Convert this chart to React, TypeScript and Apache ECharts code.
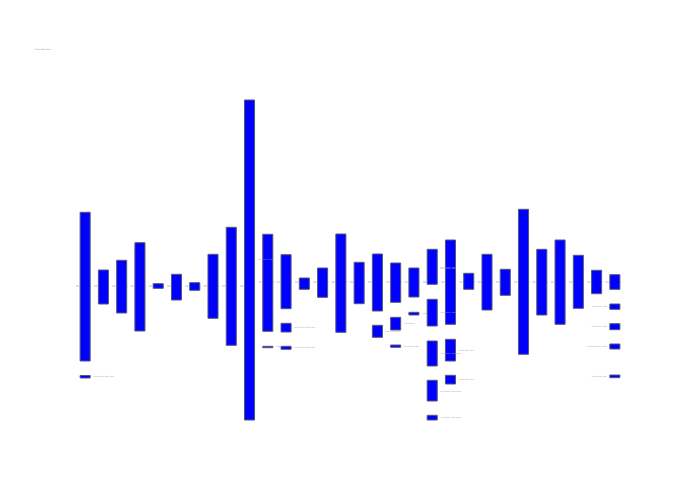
import React, { useEffect, useRef } from "react";
import * as echarts from "echarts";

// 30 columns
const categories: string[] = Array.from({ length: 30 }, (_, i) => `C${i + 1}`);

// main bars: upper and lower value per column
const mainHigh: number[] = [73.7, 16, 25.7, 43.3, 2.3, 11.7, 3.3, 31.7, 58.7, 186, 51.7, 31.3, 8, 18, 52, 23.7, 32, 23, 18, 36.7, 46, 12.7, 31.7, 16.7, 76.7, 36.7, 46, 30.7, 15.7, 11.3];
const mainLow: number[] = [-75, -18, -27, -45, -2.3, -14, -4.3, -32.3, -59.3, -134, -45.3, -22.7, -3.3, -11.3, -46.3, -17.7, -25, -16.3, -11, 1.7, -38.3, -3.3, -24, -9.3, -68.3, -29, -38.3, -22.3, -7.7, -3.3];

// extra (secondary) bars: column index, upper, lower
const extraCol: number[] = [0, 10, 11, 11, 16, 17, 17, 18, 19, 19, 19, 19, 20, 20, 29, 29, 29, 29];
const extraHigh: number[] = [-89.5, -60.3, -37.3, -60.3, -39.3, -31.3, -59, -26.3, -13.3, -55, -94.3, -129.3, -53.3, -89.3, -18, -37.7, -58, -89];
const extraLow: number[] = [-92, -61.7, -46, -63.3, -51.3, -44, -61.3, -29, -40, -80, -115, -134, -75, -98, -23.3, -43.7, -63, -91.7];

// baseline level per column
const baseline: number[] = [0, 0, 0, 0, 0, 0, 0, 0, 0, 0, 4, 4, 4, 4, 4, 4, 4, 4, 4, 4, 4, 4, 4, 4, 4, 4, 4, 4, 4, 4];

// tiny annotation texts: column, value, side (1 right / -1 left), text
const labelCol: number[] = [0, 9, 10, 11, 11, 16, 17, 17, 18, 19, 19, 19, 19, 19, 19, 20, 20, 29, 29, 29, 29];
const labelVal: number[] = [-90, 26.7, -60.5, -41, -61, -45.3, -37.3, -60.3, -27.3, 19.3, 17.7, -26.3, -67.3, -104.7, -131.3, -64, -93.3, -20.3, -40.3, -60.3, -90.3];
const labelSide: number[] = [1, 1, 1, 1, 1, 1, 1, 1, 1, 1, 1, 1, 1, 1, 1, 1, 1, -1, -1, -1, -1];
const labelText: string[] = [
  "annotation text here", "annotation text", "note", "annotation text here", "annotation text here",
  "annotation text", "annotation", "annotation text", "note",
  "annotation text", "annotation text", "annotation text", "annotation text here", "annotation text here", "annotation text here",
  "annotation text", "annotation text",
  "annotation text", "annotation text", "annotation text here", "annotation text",
];

const titleText = "Chart title here";

export default function App() {
  const ref = useRef<HTMLDivElement>(null);
  useEffect(() => {
    if (!ref.current) return;
    const chart = echarts.init(ref.current, null, { renderer: "svg" });

    const barData: number[][] = [];
    categories.forEach((_, i) => barData.push([i, mainHigh[i], mainLow[i]]));
    extraCol.forEach((c, k) => barData.push([c, extraHigh[k], extraLow[k]]));

    const baseData = categories.map((_, i) => [i, baseline[i]]);
    const labelData = labelCol.map((c, k) => [c, labelVal[k], labelSide[k], labelText[k]]);

    chart.setOption({
      animation: false,
      backgroundColor: "#ffffff",
      title: {
        text: titleText,
        left: 35,
        top: 48,
        padding: 0,
        textStyle: { fontSize: 2, color: "#888", fontWeight: "normal", fontFamily: "DejaVu Sans" },
      },
      grid: { left: 76, right: 76, top: 100, bottom: 80 },
      xAxis: {
        type: "category",
        data: categories,
        boundaryGap: true,
        show: false,
      },
      yAxis: {
        type: "value",
        min: -134,
        max: 186,
        show: false,
      },
      series: [
        {
          type: "custom",
          data: baseData,
          z: 1,
          renderItem: (params: any, api: any) => {
            const i = api.value(0);
            const v = api.value(1);
            const p1 = api.coord([i, v]);
            const w = api.size([1, 0])[0];
            return {
              type: "line",
              shape: { x1: p1[0] - w / 2, y1: p1[1], x2: p1[0] + w / 2, y2: p1[1] },
              style: { stroke: "#b4bccd", lineWidth: 1, lineDash: [3, 3] },
            };
          },
        },
        {
          type: "custom",
          data: barData,
          z: 2,
          renderItem: (params: any, api: any) => {
            const i = api.value(0);
            const hi = api.coord([i, api.value(1)]);
            const lo = api.coord([i, api.value(2)]);
            const w = api.size([1, 0])[0] * 0.55;
            return {
              type: "rect",
              shape: { x: hi[0] - w / 2, y: hi[1], width: w, height: Math.max(lo[1] - hi[1], 1) },
              style: { fill: "#0000ff", stroke: "#55577a", lineWidth: 1 },
            };
          },
        },
        {
          type: "custom",
          data: labelData,
          z: 3,
          renderItem: (params: any, api: any) => {
            const i = api.value(0);
            const p = api.coord([i, api.value(1)]);
            const side = api.value(2);
            const txt = labelData[params.dataIndex][3] as string;
            return {
              type: "text",
              x: p[0] + side * 8,
              y: p[1],
              style: {
                text: txt,
                fontSize: 2,
                fontFamily: "DejaVu Sans",
                fill: "#9aa3b8",
                align: side > 0 ? "left" : "right",
                verticalAlign: "middle",
              },
            };
          },
        },
      ],
    });
    return () => chart.dispose();
  }, []);
  return (
    <div
      ref={ref}
      style={{ position: "fixed", left: 0, top: 0, width: 700, height: 500, background: "#fff" }}
    />
  );
}
